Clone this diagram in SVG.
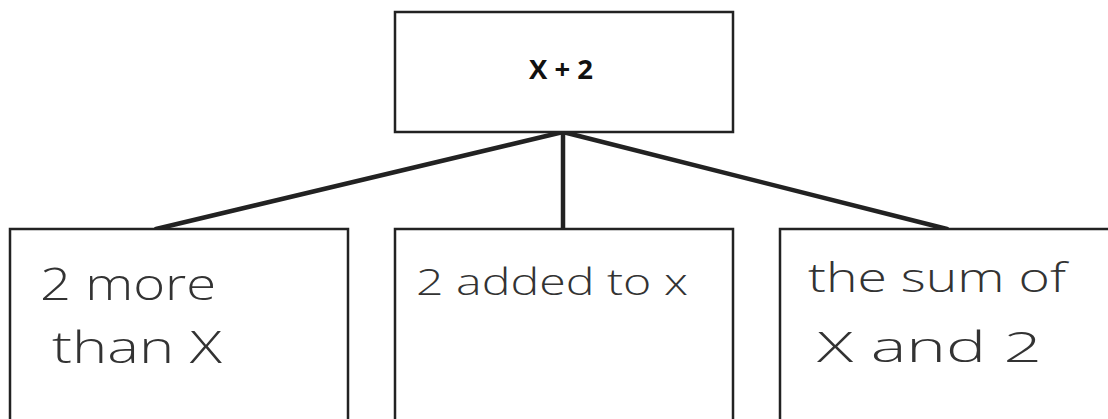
<svg xmlns="http://www.w3.org/2000/svg" width="1108" height="419" viewBox="0 0 1108 419">
<style>
.box{fill:#fff;stroke:#222;stroke-width:2.5}
.title{font-family:"Open Sans","Liberation Sans",sans-serif;font-weight:700;font-size:27px;fill:#111}
.hand{font-family:"Open Sans","Liberation Sans",sans-serif;font-weight:300;fill:#333}
.conn{stroke:#222;stroke-width:4.5;stroke-linecap:round;fill:none}
</style>
<rect width="1108" height="419" fill="#fff"/>
<g id="connectors">
<line class="conn" x1="563" y1="132" x2="156" y2="229"/>
<line class="conn" x1="563" y1="132" x2="563" y2="229"/>
<line class="conn" x1="563" y1="132" x2="947" y2="229"/>
</g>
<g id="root">
<rect class="box" x="395" y="12" width="338" height="120"/>
<text class="title" x="561" y="79" text-anchor="middle" textLength="64" lengthAdjust="spacingAndGlyphs">X + 2</text>
</g>
<g id="child1">
<rect class="box" x="10" y="229" width="338" height="200"/>
<text class="hand" font-size="44" x="40" y="300" textLength="176" lengthAdjust="spacingAndGlyphs">2 more</text>
<text class="hand" font-size="44" x="52" y="363" textLength="170" lengthAdjust="spacingAndGlyphs">than X</text>
</g>
<g id="child2">
<rect class="box" x="395" y="229" width="338" height="200"/>
<text class="hand" font-size="36" x="416" y="295" textLength="272" lengthAdjust="spacingAndGlyphs">2 added to x</text>
</g>
<g id="child3">
<rect class="box" x="780" y="229" width="340" height="200"/>
<text class="hand" font-size="40" x="808" y="292" textLength="258" lengthAdjust="spacingAndGlyphs">the sum of</text>
<text class="hand" font-size="42" x="817" y="362" textLength="225" lengthAdjust="spacingAndGlyphs">X  and 2</text>
</g>
</svg>
